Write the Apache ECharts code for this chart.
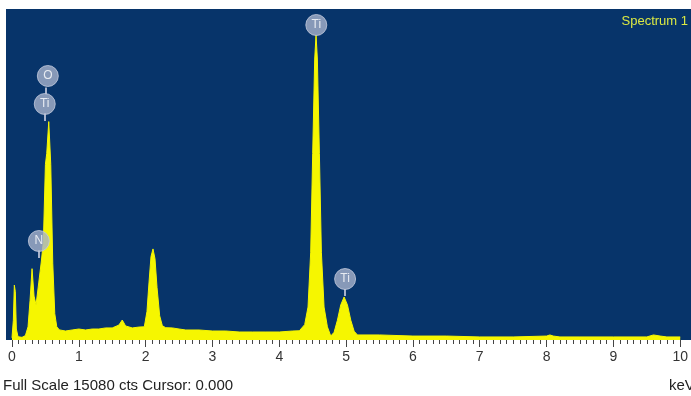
<!DOCTYPE html>
<html>
<head>
<meta charset="utf-8">
<script src="https://cdn.jsdelivr.net/npm/echarts@6/dist/echarts.min.js"></script>
<style>
  html, body { margin: 0; padding: 0; background: #fff; }
  #chart { width: 691px; height: 396px; }
</style>
</head>
<body>
<div id="chart"></div>
<script>
// energy (keV) and counts
var energies = [0.00, 0.02, 0.035, 0.05, 0.065, 0.09, 0.15, 0.20, 0.24, 0.27, 0.30, 0.33, 0.36, 0.40, 0.44, 0.47, 0.50, 0.52, 0.55, 0.58, 0.61, 0.64, 0.67, 0.71,
    0.8, 0.9, 1.0, 1.1, 1.2, 1.3, 1.4, 1.5, 1.6, 1.65, 1.7, 1.8, 1.9, 1.98,
    2.02, 2.05, 2.08, 2.11, 2.14, 2.17, 2.21, 2.25, 2.3, 2.4, 2.5, 2.6, 2.8, 3.0, 3.2, 3.4, 3.6, 3.8, 4.0, 4.2, 4.30,
    4.38, 4.43, 4.47, 4.50, 4.53, 4.55, 4.57, 4.60, 4.63, 4.67, 4.72, 4.77,
    4.82, 4.87, 4.92, 4.97, 5.02, 5.07, 5.12, 5.17, 5.5, 6.0, 6.5, 7.0, 7.5, 8.0, 8.05, 8.1, 8.2, 8.5, 9.0, 9.5, 9.6, 9.7, 9.8, 10.0];
var counts = [100, 900, 2500, 2200, 500, 150, 120, 200, 600, 1800, 3250, 2000, 1600, 2600, 3600, 4500, 8000, 8500, 9950, 8000, 3500, 1200, 600, 460,
    410, 456, 500, 456, 500, 500, 550, 550, 680, 910, 640, 550, 590, 600,
    1300, 2600, 3800, 4150, 3700, 2400, 1100, 650, 560, 550, 500, 456, 456, 410, 410, 365, 365, 365, 365, 410, 420,
    700, 1500, 4000, 8500, 12800, 13900, 12800, 8500, 4000, 1500, 600, 180,
    350, 900, 1600, 1960, 1600, 900, 400, 230, 230, 180, 180, 140, 140, 180, 230, 180, 140, 140, 140, 140, 230, 180, 140, 140];

// peak labels
var peakNames = ['O', 'Ti', 'N', 'Ti', 'Ti'];
var peakX = [0.536, 0.49, 0.402, 4.554, 4.985];
var peakY = [12028, 10752, 4510, 14351, 2779];

var fullScale = 15080;
var xTicks = [0, 1, 2, 3, 4, 5, 6, 7, 8, 9, 10];

var spectrum = energies.map(function (e, i) { return [e, counts[i]]; });
var labels = peakNames.map(function (n, i) { return { name: n, value: [peakX[i], peakY[i]] }; });

var chart = echarts.init(document.getElementById('chart'));
var option = {
    animation: false,
    graphic: [
        { type: 'rect', z: -10, shape: { x: 6, y: 9, width: 685, height: 331 }, style: { fill: '#07346a' } },
        { type: 'text', right: 3, top: 15, z: 10, style: { text: 'Spectrum 1', fill: '#dbe843', font: '13px "Liberation Sans", Arial' } },
        { type: 'text', left: 3, top: 378, style: { text: 'Full Scale ' + fullScale + ' cts Cursor: 0.000', fill: '#222', font: '15px "Liberation Sans", Arial' } },
        { type: 'text', left: 669, top: 378, style: { text: 'keV', fill: '#222', font: '15px "Liberation Sans", Arial' } }
    ],
    grid: { left: 12, right: 7, top: 9, bottom: 56 },
    xAxis: {
        type: 'value',
        min: xTicks[0],
        max: xTicks[xTicks.length - 1],
        interval: 1,
        axisLine: { show: false },
        axisTick: { show: true, length: 7, lineStyle: { color: '#444' } },
        minorTick: { show: true, splitNumber: 10, length: 4, lineStyle: { color: '#444' } },
        splitLine: { show: false },
        axisLabel: { color: '#333', fontSize: 14, margin: 10, fontFamily: '"Liberation Sans", Arial' }
    },
    yAxis: {
        type: 'value',
        min: 0,
        max: fullScale,
        show: false
    },
    series: [
        {
            type: 'line',
            data: spectrum,
            showSymbol: false,
            lineStyle: { color: '#f6f600', width: 1 },
            areaStyle: { color: '#f6f600', opacity: 1 }
        },
        {
            type: 'scatter',
            data: labels,
            symbol: 'circle',
            symbolSize: 21,
            z: 5,
            itemStyle: { color: '#a7b3cc', borderColor: '#c3cbdd', borderWidth: 1 },
            label: { show: true, position: 'inside', formatter: '{b}', color: '#fff', fontSize: 12, fontFamily: 'Liberation Sans, Arial' },
            markLine: {
                silent: true,
                symbol: 'none',
                label: { show: false },
                lineStyle: { color: '#a7b3cc', width: 2, type: 'solid' },
                data: [
                    [{ coord: [0.49, 10342] }, { coord: [0.49, 9978] }],
                    [{ coord: [0.51, 11500] }, { coord: [0.51, 11200] }],
                    [{ coord: [0.402, 4100] }, { coord: [0.402, 3736] }],
                    [{ coord: [4.985, 2323] }, { coord: [4.985, 2005] }]
                ]
            }
        }
    ]
};
chart.setOption(option);
</script>
</body>
</html>
